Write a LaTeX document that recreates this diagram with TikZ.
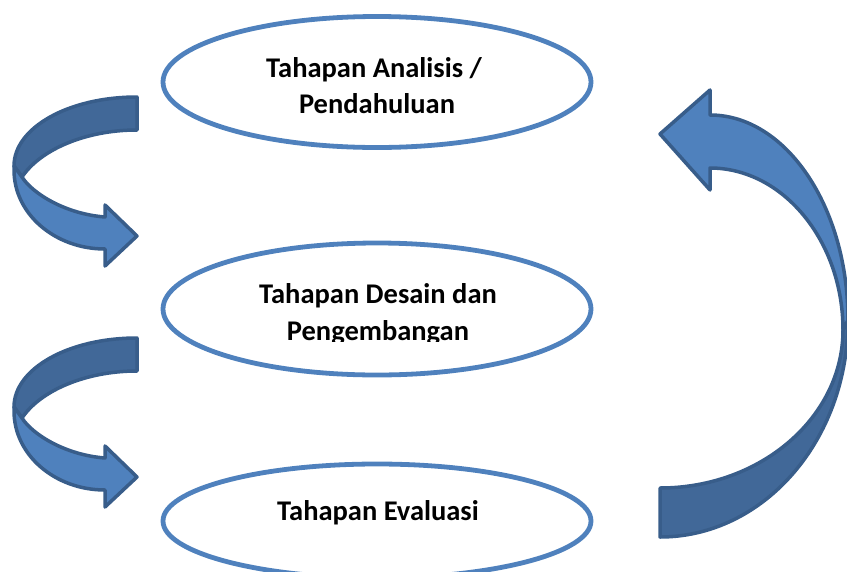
\documentclass[tikz,border=0pt]{standalone}
\usepackage{fontspec}
\setmainfont{Carlito}
\usetikzlibrary{shapes.geometric}
\definecolor{ringblue}{RGB}{79,129,189}
\definecolor{bandlight}{RGB}{79,129,189}
\definecolor{banddark}{RGB}{65,104,152}
\definecolor{bandedge}{RGB}{56,93,138}
\tikzset{
    stage/.style={ellipse,draw=ringblue,line width=4.8pt,minimum width=428pt,inner sep=0pt},
    stagetext/.style={font=\fontsize{28.5}{35}\selectfont\bfseries,anchor=base,inner sep=0pt},
    backband/.style={fill=banddark,draw=bandedge,line width=3.5pt,line join=round},
    frontband/.style={fill=bandlight,draw=bandedge,line width=3.5pt,line join=round}
}

\begin{document}
\begin{tikzpicture}[x=1pt,y=-1pt]
  \useasboundingbox (0,0) rectangle (847,571);

  \node[stage,minimum height=131pt] (analisis) at (377,82)  {};
  \node[stage,minimum height=132pt] (desain)   at (377,309) {};
  \node[stage,minimum height=114pt] (evaluasi) at (377,521) {};

  \node[stagetext] (analisis1) at (374,77)  {Tahapan Analisis /};
  \node[stagetext] (analisis2) at (377,113) {Pendahuluan};
  \node[stagetext] (desain1)   at (378,303) {Tahapan Desain dan};
  \begin{scope}
    \clip (250,310) rectangle (510,341);
    \node[stagetext] (desain2) at (378,340) {Pengembangan};
  \end{scope}
  \node[stagetext] (evaluasi1) at (378,520) {Tahapan Evaluasi};

  % left arrows
  \foreach \dy in {0,241}{
    \begin{scope}[shift={(0,\dy)}]
      \draw[backband] (137,97) .. controls (68,97) and (14,128) .. (14,166)
        -- (22,177) .. controls (40,150) and (85,130) .. (137,130) -- cycle;
      \draw[frontband] (14,166) -- (22,177) .. controls (32,193) and (65,214) .. (105,217)
        -- (105,205) -- (137,236) -- (105,266) -- (105,249)
        .. controls (55,249) and (14,214) .. (14,170) -- cycle;
    \end{scope}
  }

  % right arrow
  \coordinate (tailtop) at (660,488);
  \coordinate (tailbot) at (660,537);
  \coordinate (twistout) at (848,320);
  \coordinate (twistin) at (843,330);
  \draw[backband] (twistout) .. controls (848,440) and (764,537) .. (tailbot)
    -- (tailtop) .. controls (761,488) and (843,417) .. (twistin) -- cycle;
  \draw[frontband] (710,168) -- (710,190) -- (660,134) -- (710,90) -- (710,115)
    .. controls (786,115) and (848,207) .. (twistout) -- (twistin)
    .. controls (843,241) and (783,168) .. (710,168) -- cycle;
\end{tikzpicture}
\end{document}
